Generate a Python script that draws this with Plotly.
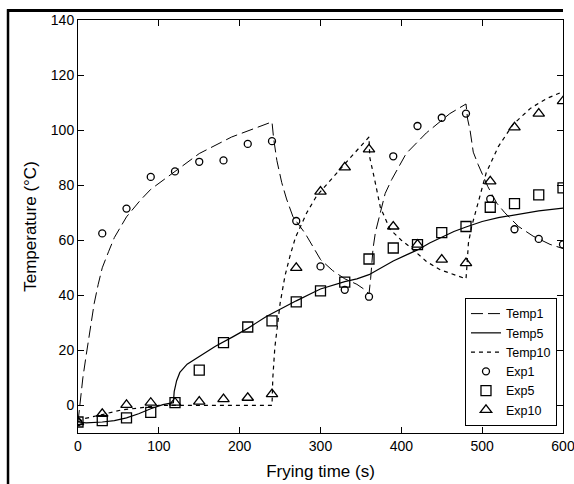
import plotly.graph_objects as go

# Experimental sampling times (s)
exp_t = [0, 30, 60, 90, 120, 150, 180, 210, 240, 270, 300, 330, 360, 390, 420, 450, 480, 510, 540, 570, 600]
exp1 = [-6, 62.5, 71.5, 83, 85, 88.5, 89, 95, 96, 67, 50.5, 42, 39.5, 90.5, 101.5, 104.5, 106, 75, 64, 60.5, 58.5]
exp5 = [-6, -5.5, -4.5, -2.5, 1, 12.8, 22.8, 28.5, 30.7, 37.6, 41.6, 44.8, 53.2, 57.2, 58.4, 62.8, 65, 72, 73.3, 76.5, 79]
exp10 = [-6, -3, 0.2, 1, 1, 1.4, 2.3, 2.8, 4.1, 50, 77.7, 86.5, 93, 65, 58.4, 53, 51.7, 81.4, 101, 106, 110.5]

# Model curves
temp1_t = [0, 3, 6, 10, 15, 20, 25, 30, 38, 45, 60, 77, 90, 118, 150, 190, 240,
           242, 246, 252, 258, 266, 281, 291, 300, 315, 330, 345, 355, 360,
           362, 365, 368, 374, 380, 388, 406, 431, 460, 480,
           482, 485, 489, 495, 507, 518, 528, 545, 563, 584, 600]
temp1_y = [-6, 2, 10, 18, 28, 37, 44, 50, 56, 61, 68.5, 74.5, 78.5, 84.5, 91.5, 97.5, 103,
           97, 89, 81, 75, 68.5, 62.5, 57.5, 53, 49, 46, 44, 42, 40.5,
           46, 57, 63, 70, 77, 82, 91.5, 99, 106, 109.5,
           104, 100, 92, 87.5, 79.5, 73.5, 70, 65, 61.5, 58.5, 57]

temp5_t = [0, 10, 30, 45, 60, 75, 90, 105, 118, 119, 122, 126, 135, 151, 170, 192, 210, 233,
           250, 270, 291, 300, 330, 345, 360, 375, 390, 405, 420, 435, 450, 465, 480, 500,
           520, 540, 570, 600]
temp5_y = [-6, -6.3, -6, -5.5, -4.5, -3, -1.2, 0.3, 1, 5, 9, 12, 15, 18, 21.5, 25, 28, 32.3,
           35, 38, 41, 42.3, 45, 46, 47.5, 50, 52.5, 54.5, 56.5, 59, 61.2, 63.2, 64.8, 66.8,
           68.2, 69.3, 70.7, 71.7]

temp10_t = [0, 9, 30, 54, 79, 100, 240, 240.5, 241, 243.5, 247, 250, 256, 262, 269, 283, 295,
            320, 340, 360, 361, 367, 374, 386, 400, 411, 431, 448, 465, 480,
            481, 483, 487, 495, 505, 520, 538, 560, 580, 600]
temp10_y = [-6, -4.7, -3.3, -1.6, -0.8, 0, 0, 4, 10, 21, 30, 37, 47, 54, 61, 70, 76,
            84.5, 91, 97.5, 90, 82, 72, 64, 60, 57.5, 52.3, 49.3, 47.5, 46,
            50, 59, 65, 74, 84.5, 94, 102, 108, 111.5, 114]

x_ticks = [0, 100, 200, 300, 400, 500, 600]
y_ticks = [0, 20, 40, 60, 80, 100, 120, 140]

FONT = "Liberation Sans, Arial, sans-serif"

fig = go.Figure()
fig.add_trace(go.Scatter(x=temp1_t, y=temp1_y, mode="lines", name="Temp1",
                         line=dict(color="black", width=1, dash="12px,5px")))
fig.add_trace(go.Scatter(x=temp5_t, y=temp5_y, mode="lines", name="Temp5",
                         line=dict(color="black", width=1.2)))
fig.add_trace(go.Scatter(x=temp10_t, y=temp10_y, mode="lines", name="Temp10",
                         line=dict(color="black", width=1.2, dash="4px,4px")))
fig.add_trace(go.Scatter(x=exp_t, y=exp1, mode="markers", name="Exp1",
                         marker=dict(symbol="circle-open", size=7, color="black",
                                     line=dict(width=1.3, color="black"))))
fig.add_trace(go.Scatter(x=exp_t, y=exp5, mode="markers", name="Exp5",
                         marker=dict(symbol="square-open", size=10, color="black",
                                     line=dict(width=1.3, color="black"))))
fig.add_trace(go.Scatter(x=exp_t, y=exp10, mode="markers", name="Exp10",
                         marker=dict(symbol="triangle-up-open", size=10, color="black",
                                     line=dict(width=1.3, color="black"))))

axis_common = dict(showgrid=False, zeroline=False, showline=True, linecolor="black",
                   linewidth=1, mirror="ticks", ticks="inside", ticklen=6,
                   tickcolor="black", tickwidth=1, automargin=False,
                   tickfont=dict(family=FONT, size=14, color="black"))

fig.update_xaxes(range=[0, 600], tickvals=x_ticks, ticklabeloverflow="allow",
                 title=dict(text="Frying time (s)", font=dict(family=FONT, size=17, color="black"),
                            standoff=12),
                 **axis_common)
fig.update_yaxes(range=[-10, 140], tickvals=y_ticks,
                 title=dict(text="Temperature (°C)", font=dict(family=FONT, size=17, color="black"),
                            standoff=9),
                 **axis_common)

fig.update_layout(
    width=574, height=484,
    margin=dict(l=78, r=11, t=20, b=51),
    paper_bgcolor="white", plot_bgcolor="white",
    font=dict(family=FONT, color="black"),
    showlegend=True,
    legend=dict(x=0.9876, y=0.017, xanchor="right", yanchor="bottom",
                bgcolor="white", bordercolor="black", borderwidth=1,
                font=dict(family=FONT, size=12.5, color="black"),
                tracegroupgap=0),
    shapes=[
        dict(type="line", xref="paper", yref="paper", x0=-0.1464, x1=1.0, y0=1.023, y1=1.023,
             line=dict(color="black", width=3)),
        dict(type="line", xref="paper", yref="paper", x0=-0.1443, x1=-0.1443, y0=1.026, y1=-0.13,
             line=dict(color="black", width=2.5)),
    ],
)

fig.write_html("out.html", config={"displayModeBar": False},
               post_script="document.body.style.margin='0';document.body.style.overflow='hidden';")
